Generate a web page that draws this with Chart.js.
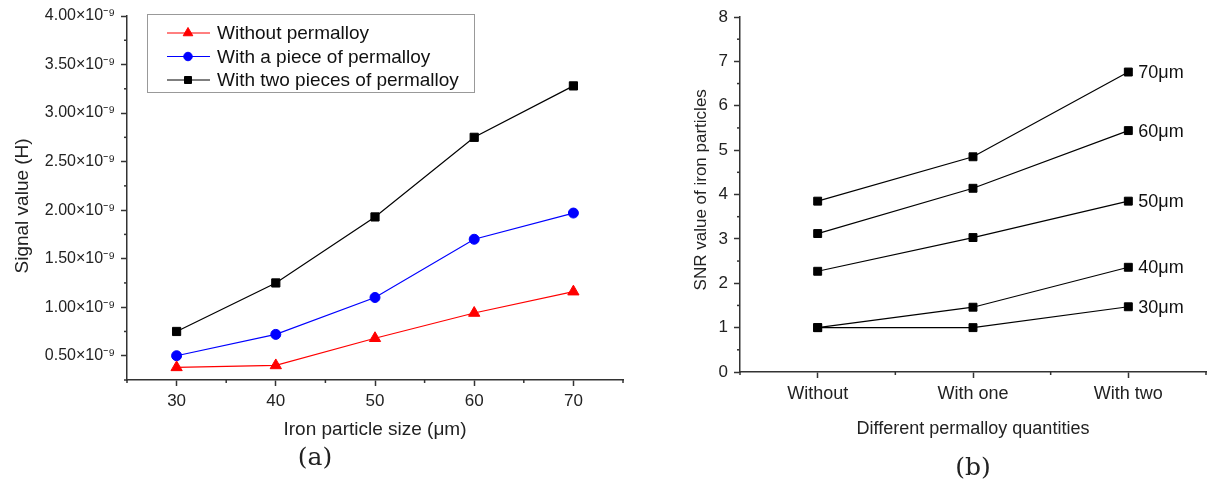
<!DOCTYPE html>
<html>
<head>
<meta charset="utf-8">
<script src="https://cdn.jsdelivr.net/npm/chart.js@4.4.1/dist/chart.umd.min.js"></script>
<style>
body{margin:0;background:#fff;width:1225px;height:484px;position:relative;overflow:hidden;font-family:"Liberation Sans",Arial,sans-serif}
#wa{position:absolute;left:0;top:0;width:640px;height:484px}
#wb{position:absolute;left:640px;top:0;width:585px;height:484px}
.cap{position:absolute;width:80px;text-align:center;font-family:"DejaVu Serif",serif;font-size:25px;line-height:30px;color:#222}
</style>
</head>
<body>
<div id="wa"><canvas id="ca"></canvas></div>
<div id="wb"><canvas id="cb"></canvas></div>
<div class="cap" style="left:275px;top:442px">(a)</div>
<div class="cap" style="left:933px;top:452px">(b)</div>
<script>
// (a) signal value, in units of 1e-9 H
var sizes = [30, 40, 50, 60, 70];
var withoutPermalloy = [0.38, 0.40, 0.68, 0.94, 1.16];
var onePiece = [0.50, 0.72, 1.10, 1.70, 1.97];
var twoPieces = [0.75, 1.25, 1.93, 2.75, 3.28];
var seriesNames = ['Without permalloy', 'With a piece of permalloy', 'With two pieces of permalloy'];

// (b) SNR
var quantities = ['Without', 'With one', 'With two'];
var snr30 = [1.00, 1.00, 1.47];
var snr40 = [1.00, 1.46, 2.36];
var snr50 = [2.27, 3.03, 3.85];
var snr60 = [3.12, 4.14, 5.44];
var snr70 = [3.85, 4.85, 6.76];
var snrNames = ['30μm', '40μm', '50μm', '60μm', '70μm'];

var FONT = '"Liberation Sans", Arial, sans-serif';
var AXIS = '#333';
var TEXT = '#222';

function pairs(xs, ys) {
  return ys.map(function (y, i) { return {x: xs[i], y: y}; });
}

function majorTickColor(c) {
  return c.tick && c.tick.label !== '' ? AXIS : 'rgba(0,0,0,0)';
}

// short ticks where the label is blank
var minorTicks = {
  id: 'minorTicks',
  afterDraw: function (chart) {
    var ctx = chart.ctx;
    ctx.save();
    ctx.strokeStyle = AXIS;
    ctx.lineWidth = 1.5;
    ['x', 'y'].forEach(function (id) {
      var sc = chart.scales[id];
      sc.ticks.forEach(function (t) {
        if (t.label !== '') return;
        var p = sc.getPixelForValue(t.value);
        ctx.beginPath();
        if (id === 'x') { ctx.moveTo(p, sc.top); ctx.lineTo(p, sc.top + 3); }
        else { ctx.moveTo(sc.right, p); ctx.lineTo(sc.right - 3, p); }
        ctx.stroke();
      });
    });
    ctx.restore();
  }
};

var boxLegend = {
  id: 'boxLegend',
  afterDraw: function (chart) {
    var o = chart.options.plugins.boxLegend;
    if (!o) return;
    var ctx = chart.ctx;
    ctx.save();
    ctx.strokeStyle = '#999';
    ctx.lineWidth = 1;
    ctx.strokeRect(o.x + 0.5, o.y + 0.5, o.w, o.h);
    ctx.font = '19px ' + FONT;
    ctx.textBaseline = 'middle';
    chart.data.datasets.forEach(function (ds, i) {
      var y = o.y + o.first + i * o.step;
      ctx.strokeStyle = ds.borderColor;
      ctx.lineWidth = 1;
      ctx.beginPath();
      ctx.moveTo(o.x + 20, y);
      ctx.lineTo(o.x + 63, y);
      ctx.stroke();
      ctx.fillStyle = ds.pointBackgroundColor;
      Chart.helpers.drawPoint(ctx, {pointStyle: ds.pointStyle, radius: ds.pointRadius * 0.85, borderWidth: 1}, o.x + 41, y);
      ctx.fillStyle = '#111';
      ctx.fillText(ds.label, o.x + 70, y + 1);
    });
    ctx.restore();
  }
};

var endLabels = {
  id: 'endLabels',
  afterDatasetsDraw: function (chart) {
    var ctx = chart.ctx;
    ctx.save();
    ctx.font = '18px ' + FONT;
    ctx.fillStyle = '#111';
    ctx.textBaseline = 'middle';
    chart.data.datasets.forEach(function (ds, i) {
      var pts = chart.getDatasetMeta(i).data;
      var p = pts[pts.length - 1];
      ctx.fillText(ds.label, p.x + 10, p.y + 1);
    });
    ctx.restore();
  }
};

function ds(label, data, color, style, r) {
  return {
    label: label, data: data,
    borderColor: color, backgroundColor: color,
    pointBackgroundColor: color, pointBorderColor: color,
    pointStyle: style, pointRadius: r, pointBorderWidth: 1,
    borderWidth: 1.2, tension: 0, clip: false
  };
}

Chart.defaults.font.family = FONT;
Chart.defaults.color = TEXT;
Chart.defaults.animation = false;

new Chart(document.getElementById('ca'), {
  type: 'line',
  data: {
    datasets: [
      ds(seriesNames[0], pairs(sizes, withoutPermalloy), '#ff0000', 'triangle', 6.5),
      ds(seriesNames[1], pairs(sizes, onePiece), '#0000ff', 'circle', 5),
      ds(seriesNames[2], pairs(sizes, twoPieces), '#000000', 'rect', 5.8)
    ]
  },
  options: {
    responsive: true,
    maintainAspectRatio: false,
    layout: {padding: {left: 0, top: 16, right: 17, bottom: 30}},
    plugins: {
      legend: {display: false},
      tooltip: {enabled: false},
      boxLegend: {x: 147, y: 14, w: 327, h: 78, first: 19, step: 23.5}
    },
    scales: {
      x: {
        type: 'linear', min: 25, max: 75,
        afterFit: function (s) { s.height = 74; },
        border: {color: AXIS, width: 1.5},
        grid: {drawOnChartArea: false, tickLength: 6, tickWidth: 1.5, tickColor: majorTickColor},
        ticks: {
          stepSize: 5, autoSkip: false, maxRotation: 0, padding: 5,
          font: {size: 17}, color: TEXT,
          callback: function (v) { return v % 10 === 0 ? String(v) : ''; }
        },
        title: {display: true, text: 'Iron particle size (μm)', font: {size: 19}, color: TEXT, padding: {top: 0, bottom: 13}}
      },
      y: {
        min: 0.25, max: 4.0,
        afterFit: function (s) { s.width = 127; },
        border: {color: AXIS, width: 1.5},
        grid: {drawOnChartArea: false, tickLength: 6, tickWidth: 1.5, tickColor: majorTickColor},
        ticks: {
          stepSize: 0.25, autoSkip: false, padding: 6,
          font: {size: 16}, color: TEXT,
          callback: function (v) {
            return Math.round(v * 4) % 2 === 0 ? v.toFixed(2) + '×10⁻⁹' : '';
          }
        },
        title: {display: true, text: 'Signal value (H)   ', font: {size: 19}, color: TEXT, padding: {top: 11, bottom: 0}}
      }
    }
  },
  plugins: [minorTicks, boxLegend]
});

var snrSets = [snr30, snr40, snr50, snr60, snr70];
new Chart(document.getElementById('cb'), {
  type: 'line',
  data: {
    datasets: snrSets.map(function (arr, i) {
      return ds(snrNames[i], pairs([1, 2, 3], arr), '#000000', 'rect', 5.6);
    })
  },
  options: {
    responsive: true,
    maintainAspectRatio: false,
    layout: {padding: {left: 0, top: 17, right: 19, bottom: 30}},
    plugins: {legend: {display: false}, tooltip: {enabled: false}},
    scales: {
      x: {
        type: 'linear', min: 0.5, max: 3.5,
        afterFit: function (s) { s.height = 82; },
        border: {color: AXIS, width: 1.5},
        grid: {drawOnChartArea: false, tickLength: 6, tickWidth: 1.5, tickColor: majorTickColor},
        ticks: {
          stepSize: 0.5, autoSkip: false, maxRotation: 0, padding: 5,
          font: {size: 18}, color: TEXT,
          callback: function (v) { return Number.isInteger(v) ? quantities[v - 1] : ''; }
        },
        title: {display: true, text: 'Different permalloy quantities', font: {size: 18}, color: TEXT, padding: {top: 0, bottom: 14}}
      },
      y: {
        min: 0, max: 8,
        afterFit: function (s) { s.width = 100; },
        border: {color: AXIS, width: 1.5},
        grid: {drawOnChartArea: false, tickLength: 6, tickWidth: 1.5, tickColor: majorTickColor},
        ticks: {
          stepSize: 0.5, autoSkip: false, padding: 6,
          font: {size: 17}, color: TEXT,
          callback: function (v) { return Number.isInteger(v) ? String(v) : ''; }
        },
        title: {display: true, text: '  SNR value of iron particles', font: {size: 17}, color: TEXT, padding: {top: 51, bottom: 0}}
      }
    }
  },
  plugins: [minorTicks, endLabels]
});
</script>
</body>
</html>
